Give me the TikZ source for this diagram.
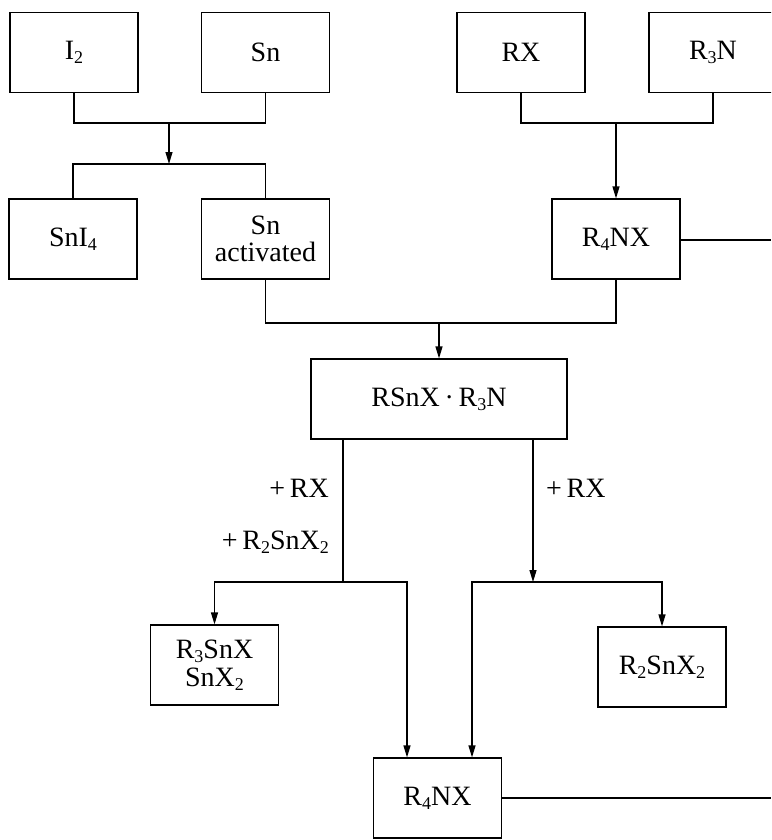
\documentclass[tikz,border=0pt]{standalone}
\usepackage{fontspec}
\setmainfont{Liberation Serif}
\usetikzlibrary{arrows.meta}
\newcommand\lowsub[1]{\raisebox{-0.3ex}{\fontsize{18}{18}\selectfont #1}}
\tikzset{
  box/.style={draw, line width=1.2pt, rectangle, minimum width=128pt, minimum height=80pt,
    inner sep=0pt, align=center, font=\fontsize{28}{27}\selectfont},
  wire/.style={line width=1.2pt},
  arr/.style={line width=1.2pt, -{Triangle[length=12pt,width=7pt]}},
  lbl/.style={inner sep=0pt, font=\fontsize{28}{27}\selectfont}
}
\begin{document}
\begin{tikzpicture}[x=1pt,y=-1pt]
\clip (0,0) rectangle (771,840);
\fill[white] (0,0) rectangle (771,840);
% boxes
\node[box] (I2) at (74,52.5) {I\lowsub{2}};
\node[box] (Sn) at (265.5,52.5) {Sn};
\node[box] (RX) at (521,52.5) {RX};
\node[box] (R3N) at (713,52.5) {R\lowsub{3}N};
\node[box] (SnI4) at (73,239) {SnI\lowsub{4}};
\node[box] (Snact) at (265.5,239) {Sn\\activated};
\node[box] (R4NXa) at (616,239) {R\lowsub{4}NX};
\node[box, minimum width=256pt] (RSnX) at (439,399) {RSnX\,·\,R\lowsub{3}N};
\node[box] (R3SnX) at (214.5,665) {R\lowsub{3}SnX\\[1pt]SnX\lowsub{2}};
\node[box] (R2SnX2) at (662,667) {R\lowsub{2}SnX\lowsub{2}};
\node[box] (R4NXb) at (437.5,798) {R\lowsub{4}NX};
% junction coordinates
\coordinate (j1) at (169,123);
\coordinate (j2) at (169,164);
\coordinate (k1) at (616,123);
\coordinate (m1) at (439,323);
\coordinate (a1) at (343,582);
\coordinate (a2) at (533,582);
\coordinate (l1) at (407,582);
\coordinate (l2) at (472,582);
\coordinate (ea) at (771,240);
\coordinate (eb) at (771,798);
% top left
\draw[wire] (I2.south) |- (j1) -| (Sn.south);
\draw[arr] (j1) -- (j2);
\draw[wire] (SnI4.north) |- (j2) -| (Snact.north);
% top right
\draw[wire] (RX.south) |- (k1) -| (R3N.south);
\draw[arr] (k1) -- (R4NXa.north);
\draw[wire] (R4NXa.east |- ea) -- (ea);
% middle
\draw[wire] (Snact.south) |- (m1) -| (R4NXa.south);
\draw[arr] (m1) -- (RSnX.north);
% left branch
\draw[wire] (RSnX.south -| a1) -- (a1);
\draw[arr] (a1) -| (R3SnX.north);
\draw[arr] (a1) -- (l1) -- (R4NXb.north -| l1);
% right branch
\draw[arr] (RSnX.south -| a2) -- (a2);
\draw[arr] (a2) -| (R2SnX2.north);
\draw[arr] (a2) -- (l2) -- (R4NXb.north -| l2);
\draw[wire] (R4NXb.east) -- (eb);
% labels
\node[lbl, anchor=east] (lb1) at (329,488) {+\,RX};
\node[lbl, anchor=east] (lb2) at (329,542) {+\,R\lowsub{2}SnX\lowsub{2}};
\node[lbl, anchor=west] (lb3) at (546,488) {+\,RX};
\end{tikzpicture}
\end{document}
